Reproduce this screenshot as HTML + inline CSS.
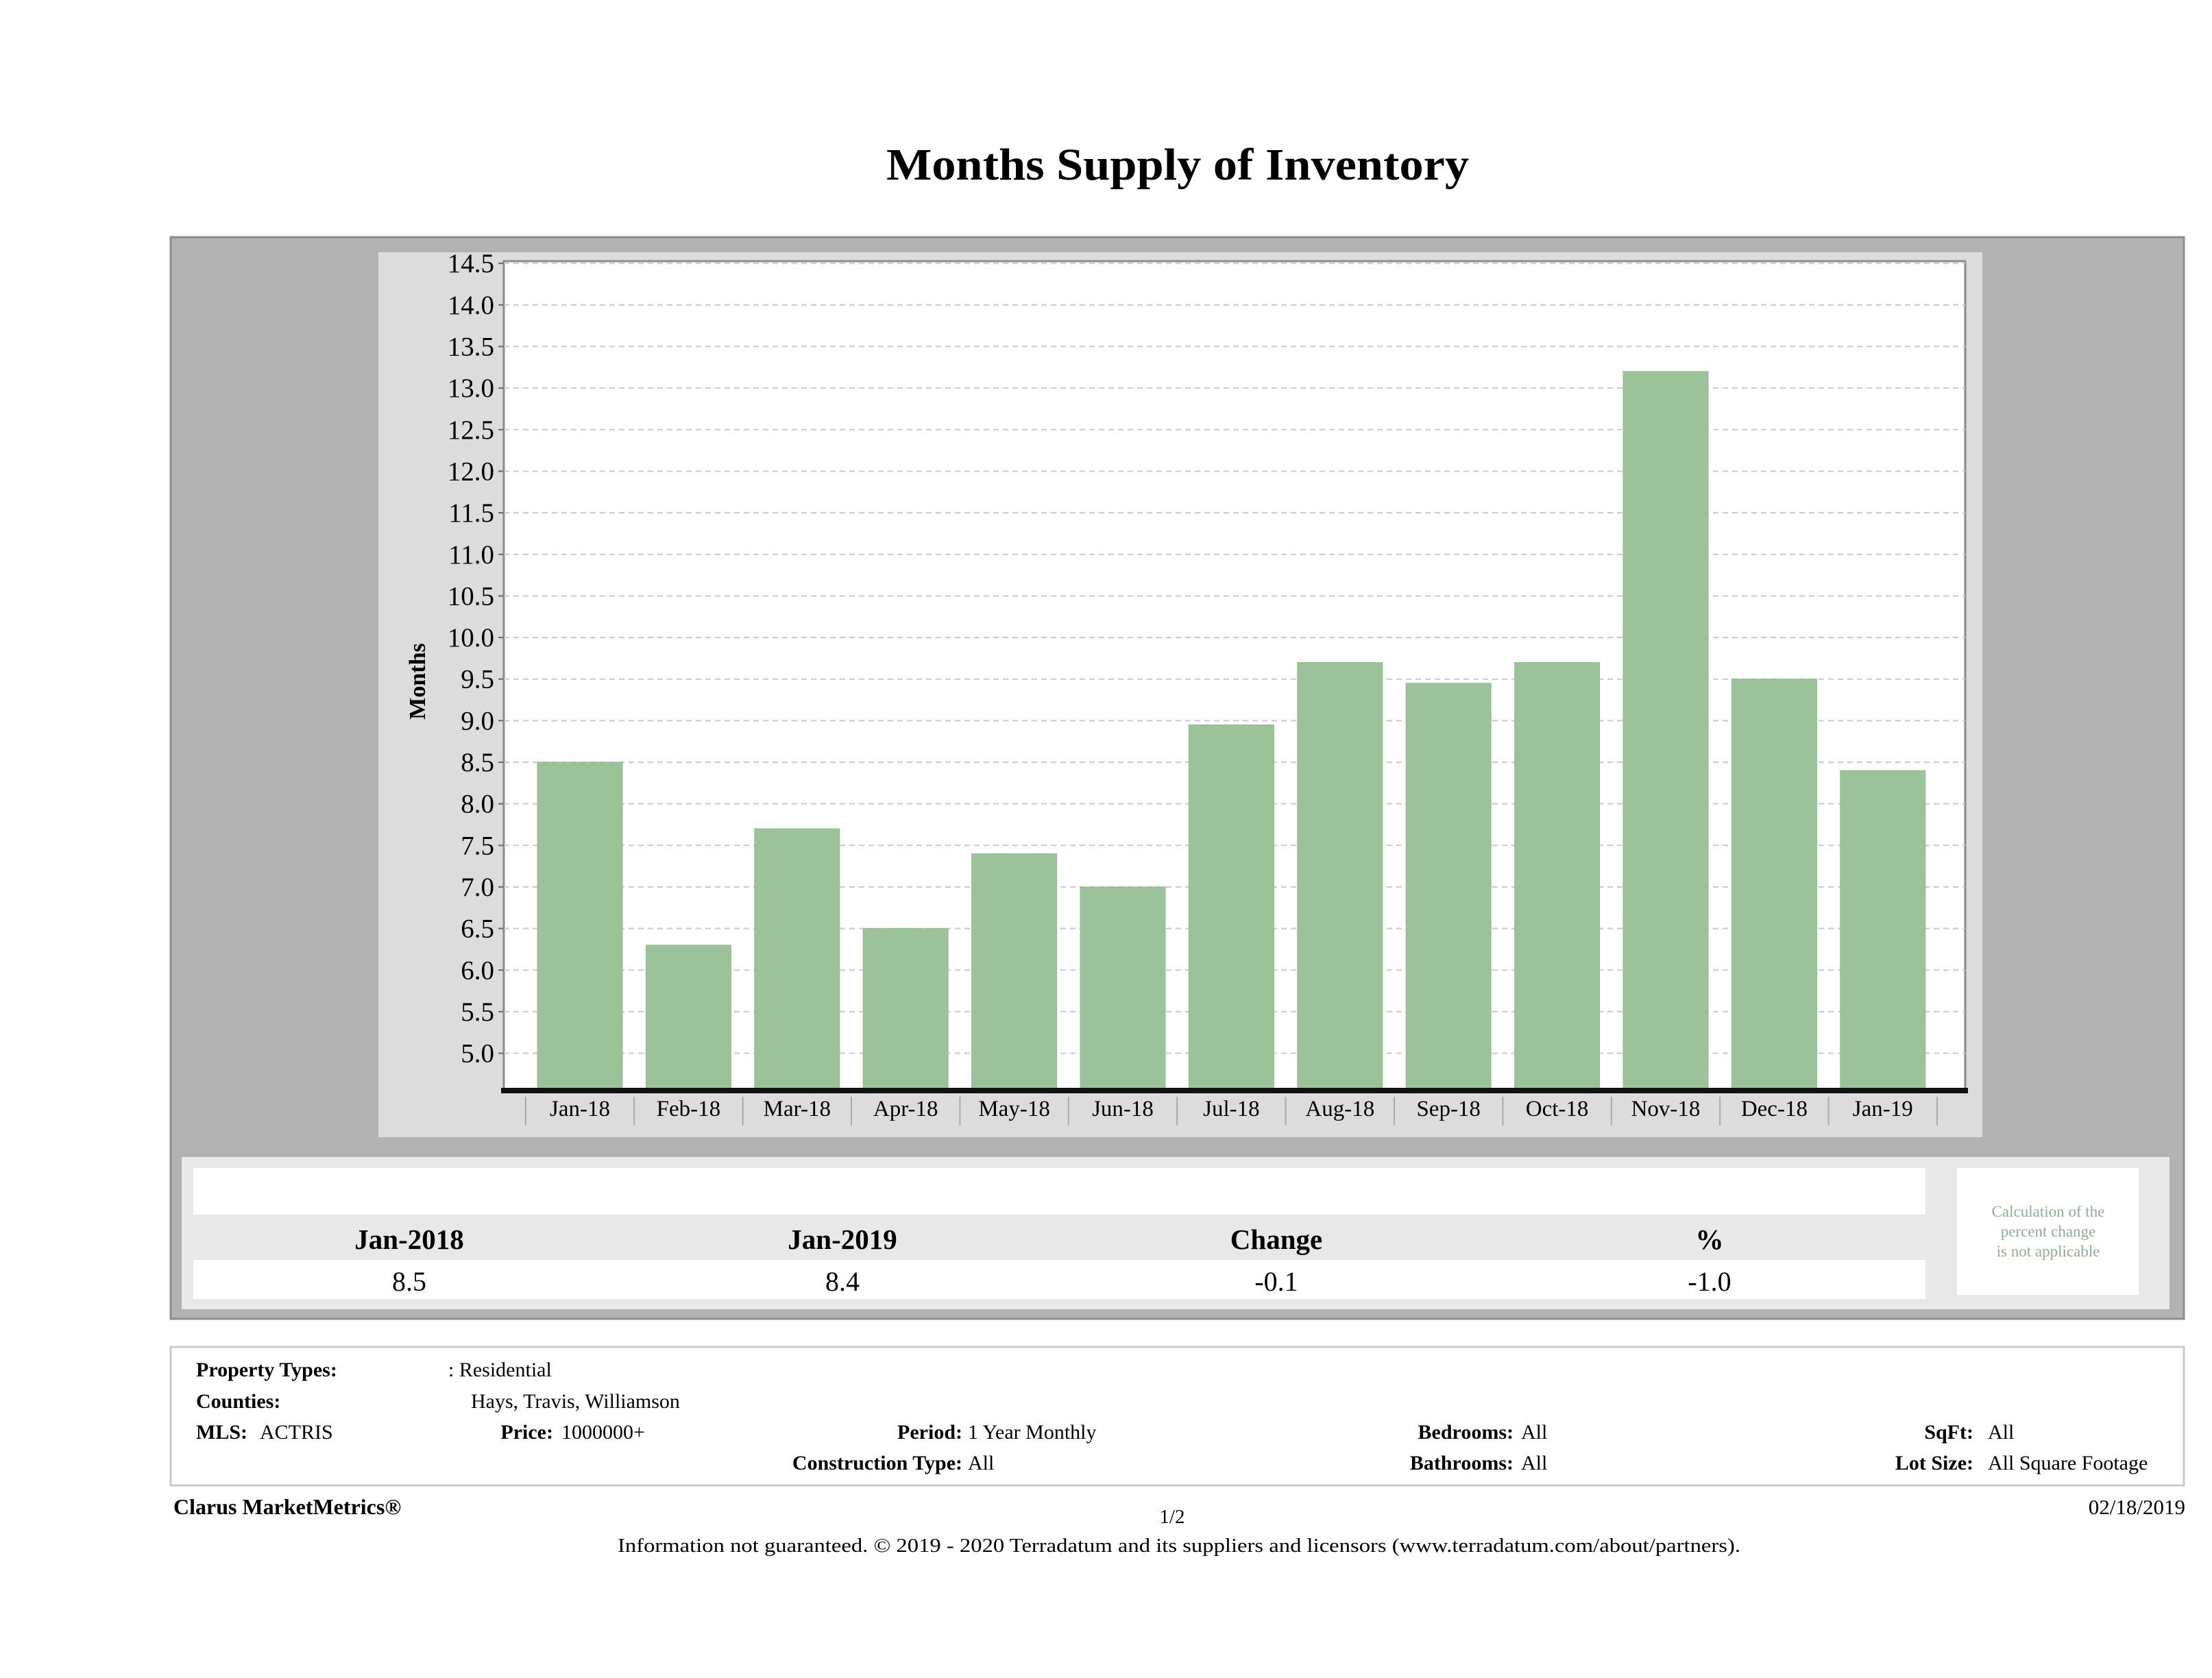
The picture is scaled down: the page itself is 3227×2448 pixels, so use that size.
<!DOCTYPE html>
<html><head><meta charset="utf-8"><style>
html,body{margin:0;padding:0;background:#fff;}
svg{display:block;font-family:"Liberation Serif",serif;}
</style></head><body>
<svg id="page" width="3227" height="2448" viewBox="0 0 3227 2448" xmlns="http://www.w3.org/2000/svg">
<text x="1718" y="262" font-size="66" font-weight="bold" text-anchor="middle" textLength="850" lengthAdjust="spacingAndGlyphs">Months Supply of Inventory</text>
<rect x="249" y="346" width="2937" height="1578" fill="#b2b2b2" stroke="#8c8c8c" stroke-width="3"/>
<rect x="552" y="368" width="2340" height="1291" fill="#dcdcdc"/>
<rect x="735" y="381" width="2132" height="1208" fill="#fff" stroke="#8a8a8a" stroke-width="3"/>
<g id="grid"></g>
<g id="bars"></g>
<g id="yaxis"></g>
<g id="xaxis"></g>
<text transform="translate(620,994) rotate(-90)" font-size="34" font-weight="bold" text-anchor="middle">Months</text>

<rect x="265" y="1688" width="2900" height="222" fill="#e8e8e8"/>
<rect x="282" y="1704" width="2527" height="68" fill="#fff"/>
<rect x="282" y="1838" width="2527" height="57" fill="#fff"/>
<rect x="2855" y="1704" width="265" height="185" fill="#fff"/>
<g font-size="41" font-weight="bold" text-anchor="middle">
<text x="597" y="1822">Jan-2018</text>
<text x="1229" y="1822">Jan-2019</text>
<text x="1862" y="1822">Change</text>
<text x="2494" y="1822">%</text>
</g>
<g font-size="40" text-anchor="middle">
<text x="597" y="1883">8.5</text>
<text x="1229" y="1883">8.4</text>
<text x="1862" y="1883">-0.1</text>
<text x="2494" y="1883">-1.0</text>
</g>
<g font-size="23" fill="#8fae8f" text-anchor="middle">
<text x="2988" y="1775">Calculation of the</text>
<text x="2988" y="1804">percent change</text>
<text x="2988" y="1833">is not applicable</text>
</g>

<rect x="249" y="1965" width="2937" height="202" fill="#fff" stroke="#c8c8c8" stroke-width="3"/>
<g font-size="30">
<text x="286" y="2008" font-weight="bold">Property Types:</text><text x="654" y="2008">: Residential</text>
<text x="286" y="2054" font-weight="bold">Counties:</text><text x="687" y="2054">Hays, Travis, Williamson</text>
<text x="286" y="2099" font-weight="bold">MLS:</text><text x="379" y="2099">ACTRIS</text>
<text x="807" y="2099" font-weight="bold" text-anchor="end">Price:</text><text x="819" y="2099">1000000+</text>
<text x="1404" y="2099" font-weight="bold" text-anchor="end">Period:</text><text x="1412" y="2099">1 Year Monthly</text>
<text x="2208" y="2099" font-weight="bold" text-anchor="end">Bedrooms:</text><text x="2219" y="2099">All</text>
<text x="2879" y="2099" font-weight="bold" text-anchor="end">SqFt:</text><text x="2900" y="2099">All</text>
<text x="1404" y="2144" font-weight="bold" text-anchor="end">Construction Type:</text><text x="1412" y="2144">All</text>
<text x="2208" y="2144" font-weight="bold" text-anchor="end">Bathrooms:</text><text x="2219" y="2144">All</text>
<text x="2879" y="2144" font-weight="bold" text-anchor="end">Lot Size:</text><text x="2900" y="2144">All Square Footage</text>
</g>
<text x="253" y="2209" font-size="32" font-weight="bold">Clarus MarketMetrics®</text>
<text x="1710" y="2222" font-size="29" text-anchor="middle">1/2</text>
<text x="3188" y="2209" font-size="31" text-anchor="end">02/18/2019</text>
<text x="1720" y="2264" font-size="29" text-anchor="middle" textLength="1638" lengthAdjust="spacingAndGlyphs">Information not guaranteed. © 2019 - 2020 Terradatum and its suppliers and licensors (www.terradatum.com/about/partners).</text>
</svg>
<script>
const categories = ["Jan-18","Feb-18","Mar-18","Apr-18","May-18","Jun-18","Jul-18","Aug-18","Sep-18","Oct-18","Nov-18","Dec-18","Jan-19"];
const monthsSupply = [8.5,6.3,7.7,6.5,7.4,7.0,8.95,9.7,9.45,9.7,13.2,9.5,8.4];
const yTicks = [5.0,5.5,6.0,6.5,7.0,7.5,8.0,8.5,9.0,9.5,10.0,10.5,11.0,11.5,12.0,12.5,13.0,13.5,14.0,14.5];

const NS = "http://www.w3.org/2000/svg";
const plotL = 735, plotR = 2867, baseY = 1589;
function yScale(v){ return 1112 - (v - 8.5) * 121.3; }
const step = 158.4, x0 = 846;
function xScale(i){ return x0 + i * step; }
function mk(tag, attrs, parent){ const e = document.createElementNS(NS, tag); for (const k in attrs) e.setAttribute(k, attrs[k]); parent.appendChild(e); return e; }

const grid = document.getElementById('grid'), yax = document.getElementById('yaxis'), xax = document.getElementById('xaxis'), bars = document.getElementById('bars');
yTicks.forEach(v => {
  const y = yScale(v);
  const g = mk('line', {x1: plotL, x2: plotR, y1: y, y2: y, stroke: '#c9c9c9', 'stroke-width': 2, 'stroke-dasharray': '8 6'}, grid);
  
  
  const tk = mk('line', {x1: plotL - 8, x2: plotL, y1: y, y2: y, stroke: '#666', 'stroke-width': 2}, yax);
  
  
  const t = mk('text', {x: plotL - 14, y: y + 13, 'font-size': 39, 'text-anchor': 'end'}, yax);
  t.textContent = v.toFixed(1);
  
  
});
const bw = 124;
monthsSupply.forEach((v, i) => {
  const cx = xScale(i), top = yScale(v);
  const r = mk('rect', {x: cx - bw/2, y: top, width: bw, height: baseY - top, fill: '#9cc29a', stroke: '#93b991', 'stroke-width': 1}, bars);
  
  
});
const axisLine = mk('rect', {x: plotL - 4, y: baseY - 2, width: plotR - plotL + 8, height: 8, fill: '#111'}, xax);


for (let i = 0; i <= categories.length; i++) {
  const sx = xScale(i) - step/2;
  const s = mk('line', {x1: sx, x2: sx, y1: 1600, y2: 1642, stroke: '#aaa', 'stroke-width': 2}, xax);
  
  
}
categories.forEach((c, i) => {
  const t = mk('text', {x: xScale(i), y: 1628, 'font-size': 33, 'text-anchor': 'middle'}, xax);
  t.textContent = c;
  
  
});
</script>
</body></html>
